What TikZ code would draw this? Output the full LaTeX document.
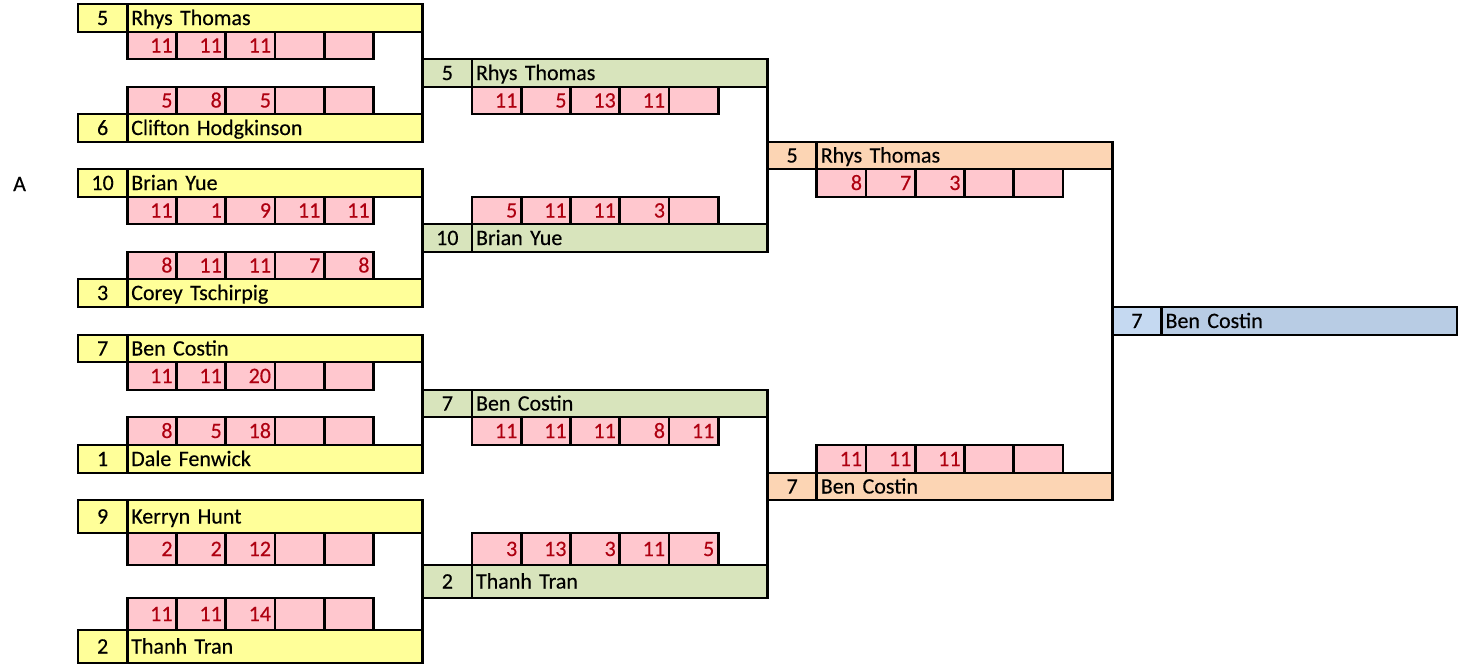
\documentclass[tikz,border=0pt]{standalone}
\usepackage{fontspec}
\setmainfont{Carlito}[FakeBold=0.3]
\definecolor{ylw}{HTML}{FFFF99}
\definecolor{grn}{HTML}{D8E4BC}
\definecolor{org}{HTML}{FCD5B4}
\definecolor{bluenum}{HTML}{C5D9F1}
\definecolor{bluename}{HTML}{B8CCE4}
\definecolor{pnk}{HTML}{FFC7CE}
\definecolor{redtxt}{HTML}{AE0010}
\tikzset{
  cellbase/.style={draw=black, line width=2.9pt, inner xsep=4pt, inner ysep=0pt, outer sep=0pt,
    text height=14pt, text depth=0pt, anchor=north west},
  scorecell/.style={cellbase, fill=pnk, text=redtxt, minimum width=49.25pt, text width=41.25pt, align=right},
  conn/.style={draw=black, line width=2.9pt}
}
% id, col, top, bottom, numfill, namefill, seed, name
\newcommand\player[8]{%
  \node[cellbase, fill=#5, minimum width=49.25pt, minimum height={(#4-#3)*1pt}, text width=41.25pt, align=center]
    (#1-s) at ({78+49.25*(#2)},#3) {#7};
  \node[cellbase, fill=#6, minimum width=295.5pt, minimum height={(#4-#3)*1pt}, text width=287.5pt, align=left]
    (#1-n) at (#1-s.north east) {#8};
}
% id, col, top, bottom, v1..v5
\newcommand\scores[9]{%
  \node[scorecell, minimum height={(#4-#3)*1pt}] (#1-1) at ({78+49.25*(#2)},#3) {#5};
  \node[scorecell, minimum height={(#4-#3)*1pt}] (#1-2) at (#1-1.north east) {#6};
  \node[scorecell, minimum height={(#4-#3)*1pt}] (#1-3) at (#1-2.north east) {#7};
  \node[scorecell, minimum height={(#4-#3)*1pt}] (#1-4) at (#1-3.north east) {#8};
  \node[scorecell, minimum height={(#4-#3)*1pt}] (#1-5) at (#1-4.north east) {#9};
}
\begin{document}
\begin{tikzpicture}[x=1pt, y=-1pt, font=\fontsize{22}{24}\selectfont]
\useasboundingbox (0,0) rectangle (1465,664);
\fill[white] (0,0) rectangle (1465,664);

\node[anchor=base west, inner sep=0pt] (lblA) at (13,191) {A};

% round 1 players
\player{p1}{0}{4}{32}{ylw}{ylw}{5}{Rhys Thomas}
\player{p2}{0}{114}{142}{ylw}{ylw}{6}{Clifton Hodgkinson}
\player{p3}{0}{169}{197}{ylw}{ylw}{10}{Brian Yue}
\player{p4}{0}{279}{307}{ylw}{ylw}{3}{Corey Tschirpig}
\player{p5}{0}{335}{362}{ylw}{ylw}{7}{Ben Costin}
\player{p6}{0}{445}{473}{ylw}{ylw}{1}{Dale Fenwick}
\player{p7}{0}{500}{533}{ylw}{ylw}{9}{Kerryn Hunt}
\player{p8}{0}{630}{663}{ylw}{ylw}{2}{Thanh Tran}

% round 1 scores
\scores{s1}{1}{32}{59}{11}{11}{11}{}{}
\scores{s2}{1}{87}{114}{5}{8}{5}{}{}
\scores{s3}{1}{197}{224}{11}{1}{9}{11}{11}
\scores{s4}{1}{252}{279}{8}{11}{11}{7}{8}
\scores{s5}{1}{362}{390}{11}{11}{20}{}{}
\scores{s6}{1}{417}{445}{8}{5}{18}{}{}
\scores{s7}{1}{533}{565}{2}{2}{12}{}{}
\scores{s8}{1}{598}{630}{11}{11}{14}{}{}

% round 2 players
\player{g1}{7}{59}{87}{grn}{grn}{5}{Rhys Thomas}
\player{g2}{7}{224}{252}{grn}{grn}{10}{Brian Yue}
\player{g3}{7}{390}{417}{grn}{grn}{7}{Ben Costin}
\player{g4}{7}{565}{598}{grn}{grn}{2}{Thanh Tran}

% round 2 scores
\scores{t1}{8}{87}{114}{11}{5}{13}{11}{}
\scores{t2}{8}{197}{224}{5}{11}{11}{3}{}
\scores{t3}{8}{417}{445}{11}{11}{11}{8}{11}
\scores{t4}{8}{533}{565}{3}{13}{3}{11}{5}

% round 3 players
\player{o1}{14}{142}{169}{org}{org}{5}{Rhys Thomas}
\player{o2}{14}{473}{500}{org}{org}{7}{Ben Costin}

% round 3 scores
\scores{u1}{15}{169}{197}{8}{7}{3}{}{}
\scores{u2}{15}{445}{473}{11}{11}{11}{}{}

% winner
\player{w}{21}{307}{335}{bluenum}{bluename}{7}{Ben Costin}

% connectors
\draw[conn] (p1-n.north east) -- (p2-n.south east);
\draw[conn] (p3-n.north east) -- (p4-n.south east);
\draw[conn] (p5-n.north east) -- (p6-n.south east);
\draw[conn] (p7-n.north east) -- (p8-n.south east);
\draw[conn] (g1-n.north east) -- (g2-n.south east);
\draw[conn] (g3-n.north east) -- (g4-n.south east);
\draw[conn] (o1-n.north east) -- (o2-n.south east);
\end{tikzpicture}
\end{document}
